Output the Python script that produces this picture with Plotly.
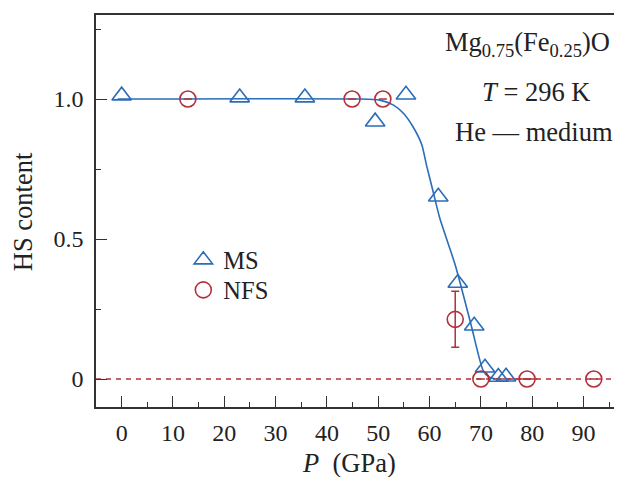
import plotly.graph_objects as go

# ---- data ----
ms_p = [0.0, 23.0, 35.7, 49.4, 55.4, 61.7, 65.5, 68.7, 70.8, 73.4, 74.9]
ms_hs = [1.012, 1.005, 1.005, 0.919, 1.015, 0.651, 0.343, 0.19, 0.04, 0.007, 0.008]

nfs_p = [12.9, 44.9, 50.9, 65.0, 70.0, 79.0, 92.0]
nfs_hs = [1.0, 1.0, 1.0, 0.213, 0.0, 0.0, 0.0]
nfs_err = [None, None, None, 0.10, None, None, None]

fit_p = [-0.8, 46.4, 50.3, 52.9, 54.9, 56.8, 58.5, 59.4, 60.7, 62.0, 65.0, 68.0, 70.4, 71.5, 72.8]
fit_hs = [1.0, 1.0, 0.996, 0.979, 0.949, 0.90, 0.836, 0.764, 0.669, 0.574, 0.407, 0.20, 0.032, 0.008, 0.0]

nfs_fit_p = [72.4, 81.0]
nfs_fit_hs = [0.0, 0.0]

zero_p = [-5, 97.5]
zero_hs = [0, 0]

x_ticks = [0, 10, 20, 30, 40, 50, 60, 70, 80, 90]
y_ticks = [0, 0.5, 1.0]
y_ticktext = ["0", "0.5", "1.0"]
y_minor = [0.25, 0.75, 1.25]

BLUE = "#2a6db8"
RED = "#b3303a"
AX = "#333333"
FONT = "Liberation Serif"
BIG = 26.5

fig = go.Figure()

fig.add_trace(go.Scatter(x=zero_p, y=zero_hs, mode="lines",
                         line=dict(color=RED, width=1.3, dash="5px,5px"),
                         showlegend=False, hoverinfo="skip"))
fig.add_trace(go.Scatter(x=fit_p, y=fit_hs, mode="lines",
                         line=dict(color=BLUE, width=1.6, shape="spline", smoothing=0.6),
                         showlegend=False, hoverinfo="skip"))
fig.add_trace(go.Scatter(x=nfs_fit_p, y=nfs_fit_hs, mode="lines",
                         line=dict(color=RED, width=1.6),
                         showlegend=False, hoverinfo="skip"))

fig.add_trace(go.Scatter(x=ms_p, y=ms_hs, mode="markers", name="MS", legend="legend",
                         marker=dict(symbol="triangle-up-open", size=17,
                                     color=BLUE, line=dict(width=1.6, color=BLUE))))
fig.add_trace(go.Scatter(x=nfs_p, y=nfs_hs, mode="markers", name="NFS", legend="legend2",
                         marker=dict(symbol="circle-open", size=16,
                                     color=RED, line=dict(width=1.6, color=RED)),
                         error_y=dict(type="data", array=nfs_err, visible=True,
                                      color=RED, thickness=1.5, width=4)))

leg_common = dict(xanchor="left", yanchor="top", bgcolor="rgba(0,0,0,0)",
                  font=dict(family=FONT, size=24.5), itemsizing="trace")

# page body has an 8px margin, so the figure is sized/offset to compensate
fig.update_layout(
    width=614, height=469,
    margin=dict(l=88, r=0, t=7, b=70),
    paper_bgcolor="white", plot_bgcolor="white",
    font=dict(family=FONT, size=24, color="#222222"),
    showlegend=True,
    legend=dict(x=0.166, y=0.4326, **leg_common),
    legend2=dict(x=0.166, y=0.356, **leg_common),
    xaxis=dict(range=[-5, 97.5], tickmode="array", tickvals=x_ticks, automargin=False,
               ticks="inside", ticklen=11, tickwidth=1.3, tickcolor=AX,
               showline=True, linecolor=AX, linewidth=1.5, mirror=True,
               showgrid=False, zeroline=False, ticklabelstandoff=3,
               tickfont=dict(family=FONT, size=24, color="#222"),
               minor=dict(tickmode="linear", tick0=5, dtick=10, ticks="inside",
                          ticklen=5, tickwidth=1.3, tickcolor=AX, showgrid=False)),
    yaxis=dict(range=[-0.1, 1.3], tickmode="array", tickvals=y_ticks, ticktext=y_ticktext,
               automargin=False,
               ticks="inside", ticklen=11, tickwidth=1.3, tickcolor=AX,
               showline=True, linecolor=AX, linewidth=1.5, mirror=False,
               showgrid=False, zeroline=False, ticklabelstandoff=6,
               tickfont=dict(family=FONT, size=24, color="#222"),
               minor=dict(tickmode="array", tickvals=y_minor, ticks="inside",
                          ticklen=5, tickwidth=1.3, tickcolor=AX, showgrid=False)),
)

annots = [
    dict(text="<i>P</i>  (GPa)", x=(349 - 96) / 526, y=(407 - 463) / 392),
    dict(text="HS content", x=(22.5 - 96) / 526, y=(407 - 211.7) / 392, textangle=-90),
    dict(text="Mg<sub>0.75</sub>(Fe<sub>0.25</sub>)O", x=(527 - 96) / 526, y=(407 - 44) / 392),
    dict(text="<i>T</i> = 296 K", x=(536 - 96) / 526, y=(407 - 92) / 392),
    dict(text="He — medium", x=(534 - 96) / 526, y=(407 - 132) / 392),
]
for a in annots:
    fig.add_annotation(xref="paper", yref="paper", showarrow=False,
                       xanchor="center", yanchor="middle",
                       font=dict(family=FONT, size=BIG, color="#222"), **a)

fig.write_html("out.html")
